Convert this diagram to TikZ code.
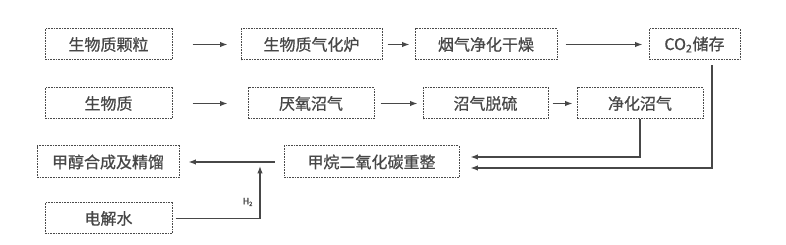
\documentclass[tikz,border=0pt]{standalone}
\usepackage{fontspec}
\setmainfont{Noto Sans CJK SC}[BoldFont={Noto Sans CJK SC},BoldFeatures={FakeBold=0.8}]
\usetikzlibrary{arrows.meta,positioning}
\definecolor{ink}{HTML}{474747}
\definecolor{edge}{HTML}{4A4A4A}

\begin{document}
\begin{tikzpicture}[x=0.75pt,y=-0.75pt,>={Latex[length=5.5pt,width=4pt]}]
  \tikzset{box/.style={draw=edge,dash pattern=on 1.2pt off 0.8pt,line width=0.75pt,minimum height=23.25pt,inner sep=0pt,text=ink,font=\fontsize{12pt}{14pt}\selectfont\bfseries},
    flow/.style={->,line width=0.9pt,draw=ink}}
  \useasboundingbox (0,0) rectangle (786,245);
  % first row
  \node[box,minimum width=95.25pt] (a) at (108.5,44.5) {生物质颗粒};
  \node[box,minimum width=105.75pt] (b) at (311.5,44.5) {生物质气化炉};
  \node[box,minimum width=106.5pt] (c) at (486,44.5) {烟气净化干燥};
  \node[box,minimum width=68.25pt] (d) at (694.5,44.5) {CO\textsubscript{2}储存};
  % second row
  \node[box,minimum width=95.25pt] (e) at (108.5,103.5) {生物质};
  \node[box,minimum width=94.5pt] (f) at (311,103.5) {厌氧沼气};
  \node[box,minimum width=93.75pt] (g) at (485.5,103.5) {沼气脱硫};
  \node[box,minimum width=94.5pt] (h) at (640,103.5) {净化沼气};
  % bottom rows
  \node[box,minimum width=106.5pt,minimum height=24pt] (i) at (108,162) {甲醇合成及精馏};
  \node[box,minimum width=131.25pt,minimum height=24pt] (j) at (371.5,162) {甲烷二氧化碳重整};
  \node[box,minimum width=95.25pt] (k) at (108.5,218.5) {电解水};
  \coordinate (m) at (260,163);
  \node[text=ink,font=\fontsize{6.5pt}{7pt}\selectfont\bfseries] (h2) at (248,202) {H\textsubscript{2}};
  \draw[flow,shorten <=15pt,shorten >=9.75pt] (a.east) -- (b.west);
  \draw[flow,shorten <=3.75pt,shorten >=3.75pt] (b.east) -- (c.west);
  \draw[flow,shorten <=6pt,shorten >=4.5pt] (c.east) -- (d.west);
  \draw[flow,shorten <=15pt,shorten >=15pt] (e.east) -- (f.west);
  \draw[flow,shorten <=4.5pt,shorten >=3.75pt] (f.east) -- (g.west);
  \draw[flow,shorten <=3pt,shorten >=3pt] (g.east) -- (h.west);
  \draw[flow,shorten >=8.25pt] (h.south) |- ([yshift=3.75pt]j.east);
  \draw[flow,shorten <=3.75pt,shorten >=8.25pt] ([xshift=13.1pt]d.south) |- ([yshift=-4.5pt]j.east);
  \draw[flow,shorten <=6.75pt,shorten >=6.75pt] (j.west) -- (i.east);
  \draw[flow,shorten <=2.25pt,shorten >=2.25pt] (k.east) -| (m);
\end{tikzpicture}
\end{document}
